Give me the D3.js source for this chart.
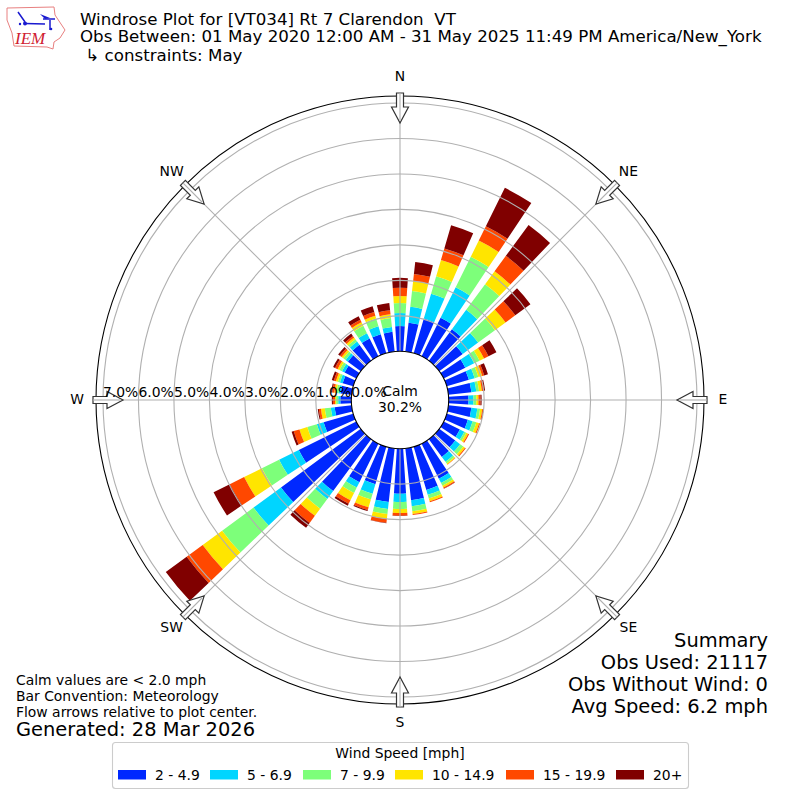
<!DOCTYPE html>
<html>
<head>
<meta charset="utf-8">
<script src="https://cdn.jsdelivr.net/npm/d3@7"></script>
<style>
  html, body { margin: 0; padding: 0; background: #fff; }
  text { font-family: "DejaVu Sans"; fill: #000; }
</style>
</head>
<body>
<div class="d3_canvas"></div>
<script>
var directions = d3.range(0, 360, 10);

// percent of obs per direction, starting at north going clockwise
var s2to5 = [.71,.82,1.02,1.21,1.10,.82,.68,.65,.65,.56,.65,.62,.51,.56,.62,1.10,1.27,1.47,
             1.27,1.52,1.10,1.21,1.81,2.79,1.81,.87,.48,.31,.31,.31,.37,.45,.56,.56,.56,.56];
var s5to7 = [.37,.45,.73,.96,.68,.54,.28,.17,.14,.14,.17,.14,.14,.17,.17,.14,.14,.17,
             .23,.20,.28,.17,.28,.96,.62,.20,.11,.06,.06,.08,.08,.08,.11,.17,.23,.14];
var s7to10 = [.28,.45,.51,.96,.90,.59,.17,.11,.08,.08,.08,.11,.06,.11,.06,.08,.11,.14,
              .20,.14,.17,.17,.34,1.10,.54,.28,.17,.06,.06,.06,.08,.08,.08,.23,.23,.25];
var s10to15 = [.20,.28,.48,.51,.45,.37,.14,.11,.08,.06,.06,.08,.06,.06,.03,.06,.08,.08,
               .11,.14,.23,.23,.25,.68,.56,.23,.11,.03,.06,.06,.06,.06,.06,.11,.08,.11];
var s15to20 = [.23,.20,.34,.45,.54,.34,.14,.06,.06,.06,.03,.03,.03,.03,.01,.03,.03,.03,
               .08,.11,.08,.11,.25,.56,.45,.17,.06,.06,.06,.06,.08,.06,.06,.08,.11,.11];
var s20up = [.28,.34,.68,1.21,1.08,.53,.25,.11,.03,.03,.01,0,0,0,0,.01,0,0,
             .01,.01,.03,.06,.17,.73,.51,.06,.03,.03,.03,.06,.06,.06,.08,.11,.17,.21];

var speedLabels = ["2 - 4.9", "5 - 6.9", "7 - 9.9", "10 - 14.9", "15 - 19.9", "20+"];
var speedColors = ["#0028ff", "#00d5ff", "#7dff7a", "#ffe500", "#ff4800", "#800000"];
var speedSeries = [s2to5, s5to7, s7to10, s10to15, s15to20, s20up];

var rTicks = [0, 1, 2, 3, 4, 5, 6, 7];
var compass = ["N", "NE", "E", "SE", "S", "SW", "W", "NW"];
var compassAngles = [0, 45, 90, 135, 180, 225, 270, 315];

var width = 800, height = 800, cx = 400, cy = 400,
    outerR = 304, barOpen = 7.4;

var svg = d3.select(".d3_canvas")
  .append("svg")
    .attr("width", width)
    .attr("height", height)
    .style("display", "block");

var r = d3.scaleLinear().domain([0, 7]).range([48.7, 297]);
var rad = d3.scaleLinear().domain([0, 360]).range([0, 2 * Math.PI]);

var table = directions.map(function(d, i) {
  var row = {dir: d};
  speedLabels.forEach(function(s, j) { row[s] = speedSeries[j][i]; });
  return row;
});
var stacked = d3.stack().keys(speedLabels)(table);

var plot = svg.append("g").attr("transform", "translate(" + cx + "," + cy + ")");

var arc = d3.arc()
  .innerRadius(function(d) { return r(d[0]); })
  .outerRadius(function(d) { return r(d[1]); })
  .startAngle(function(d) { return rad(d.data.dir - barOpen / 2); })
  .endAngle(function(d) { return rad(d.data.dir + barOpen / 2); });

// bars
plot.selectAll("g.speed")
  .data(stacked)
  .enter().append("g")
    .attr("class", "speed")
    .attr("fill", function(d, i) { return speedColors[i]; })
  .selectAll("path")
  .data(function(d) { return d; })
  .enter().append("path")
    .attr("d", arc);

// grid goes over the bars
plot.selectAll("circle.ring")
  .data(rTicks.slice(1))
  .enter().append("circle")
    .attr("class", "ring")
    .attr("r", function(d) { return r(d); })
    .attr("fill", "none")
    .attr("stroke", "#b0b0b0")
    .attr("stroke-width", 1.1);

plot.selectAll("line.spoke")
  .data(compassAngles)
  .enter().append("line")
    .attr("class", "spoke")
    .attr("x1", function(d) { return Math.sin(rad(d)) * r(0); })
    .attr("y1", function(d) { return -Math.cos(rad(d)) * r(0); })
    .attr("x2", function(d) { return Math.sin(rad(d)) * outerR; })
    .attr("y2", function(d) { return -Math.cos(rad(d)) * outerR; })
    .attr("stroke", "#b0b0b0")
    .attr("stroke-width", 1.1);

// outer spine and the hole
plot.append("circle").attr("r", outerR).attr("fill", "none")
  .attr("stroke", "#000").attr("stroke-width", 1.1);
plot.append("circle").attr("r", r(0)).attr("fill", "#fff")
  .attr("stroke", "#000").attr("stroke-width", 1.1);

// flow arrows
var arrow = "M-3.5,-307 L3.5,-307 L3.5,-293 L8.5,-293 L0,-277 L-8.5,-293 L-3.5,-293 Z";
plot.selectAll("g.flow")
  .data(compassAngles)
  .enter().append("g")
    .attr("class", "flow")
    .attr("transform", function(d) { return "rotate(" + d + ")"; })
  .call(function(g) {
    g.append("path").attr("d", arrow)
      .attr("fill", "#fff").attr("stroke", "#333").attr("stroke-width", 1.2);
    g.append("line").attr("x1", 0).attr("x2", 0).attr("y1", -307).attr("y2", -280)
      .attr("stroke", "#b0b0b0").attr("stroke-width", 1.1);
  });

// compass labels
plot.selectAll("text.compass")
  .data(compass)
  .enter().append("text")
    .attr("class", "compass")
    .attr("x", function(d, i) { return Math.sin(rad(compassAngles[i])) * 323; })
    .attr("y", function(d, i) { return -Math.cos(rad(compassAngles[i])) * 323 + 4; })
    .attr("text-anchor", "middle")
    .style("font-size", "13.9px")
    .text(function(d) { return d; });

// radial tick labels sit on the west spoke
plot.selectAll("text.rtick")
  .data(rTicks)
  .enter().append("text")
    .attr("class", "rtick")
    .attr("x", function(d) { return -r(d); })
    .attr("y", -3)
    .style("font-size", "13.9px")
    .text(function(d) { return d.toFixed(1) + "%"; });

plot.append("text").attr("x", 0).attr("y", -4).attr("text-anchor", "middle")
  .style("font-size", "13.9px").text("Calm");
plot.append("text").attr("x", 0).attr("y", 12).attr("text-anchor", "middle")
  .style("font-size", "13.9px").text("30.2%");

// header
var titleLines = [
  {t: "Windrose Plot for [VT034] Rt 7 Clarendon  VT", x: 80, y: 25},
  {t: "Obs Between: 01 May 2020 12:00 AM - 31 May 2025 11:49 PM America/New_York", x: 80, y: 42},
  {t: " \u21b3 constraints: May", x: 80, y: 61}
];
svg.selectAll("text.title")
  .data(titleLines)
  .enter().append("text")
    .attr("class", "title")
    .attr("x", function(d) { return d.x; })
    .attr("y", function(d) { return d.y; })
    .attr("xml:space", "preserve")
    .style("white-space", "pre")
    .style("font-size", "16.67px")
    .text(function(d) { return d.t; });

// footer notes
var notes = ["Calm values are < 2.0 mph", "Bar Convention: Meteorology", "Flow arrows relative to plot center."];
svg.selectAll("text.note")
  .data(notes)
  .enter().append("text")
    .attr("class", "note")
    .attr("x", 16)
    .attr("y", function(d, i) { return 685 + i * 16; })
    .style("font-size", "13.9px")
    .text(function(d) { return d; });
svg.append("text").attr("x", 16).attr("y", 736)
  .style("font-size", "19.44px").text("Generated: 28 Mar 2026");

var summary = ["Summary", "Obs Used: 21117", "Obs Without Wind: 0", "Avg Speed: 6.2 mph"];
svg.selectAll("text.summary")
  .data(summary)
  .enter().append("text")
    .attr("class", "summary")
    .attr("x", 768)
    .attr("y", function(d, i) { return 646.5 + i * 22; })
    .attr("text-anchor", "end")
    .style("font-size", "19.44px")
    .text(function(d) { return d; });

// legend
var legendX = [118, 210, 303, 395, 506, 616];
var legend = svg.append("g");
legend.append("rect")
  .attr("x", 112.5).attr("y", 742.5).attr("width", 576).attr("height", 46).attr("rx", 3)
  .attr("fill", "#fff").attr("stroke", "#ccc").attr("stroke-width", 1.1);
legend.append("text").attr("x", 400).attr("y", 758).attr("text-anchor", "middle")
  .style("font-size", "13.9px").text("Wind Speed [mph]");
legend.selectAll("rect.swatch")
  .data(speedLabels)
  .enter().append("rect")
    .attr("class", "swatch")
    .attr("x", function(d, i) { return legendX[i]; })
    .attr("y", 770)
    .attr("width", 28)
    .attr("height", 9.5)
    .attr("fill", function(d, i) { return speedColors[i]; });
legend.selectAll("text.entry")
  .data(speedLabels)
  .enter().append("text")
    .attr("class", "entry")
    .attr("x", function(d, i) { return legendX[i] + 37; })
    .attr("y", 780)
    .style("font-size", "13.9px")
    .text(function(d) { return d; });

// IEM logo, rough
var logo = svg.append("g");
logo.append("path")
  .attr("d", "M7,8 L54,7 L55,15 L65,30 L60,38 L54,42 L53,49 L47,47 L14,46 L12,33 L7,20 Z")
  .attr("fill", "#fff").attr("stroke", "#e88080").attr("stroke-width", 1);
logo.append("path")
  .attr("d", "M18,12 L25,22 M25,23.5 L45,24 M43,19 L55,19 M50,20 L50,30")
  .attr("fill", "none").attr("stroke", "#1a1ad0").attr("stroke-width", 1.5);
logo.append("path").attr("d", "M40,14 L50,18 L45,19 Z").attr("fill", "#1a1ad0");
logo.append("circle").attr("cx", 25).attr("cy", 23.5).attr("r", 2).attr("fill", "#1a1ad0");
logo.append("circle").attr("cx", 20).attr("cy", 24).attr("r", 1.2).attr("fill", "#1a1ad0");
logo.append("circle").attr("cx", 51).attr("cy", 29).attr("r", 1.3).attr("fill", "#1a1ad0");
logo.append("text").attr("x", 15).attr("y", 44)
  .style("font-family", "Liberation Serif").style("font-style", "italic")
  .style("font-size", "17px").style("fill", "#d02030").text("IEM");
</script>
</body>
</html>
